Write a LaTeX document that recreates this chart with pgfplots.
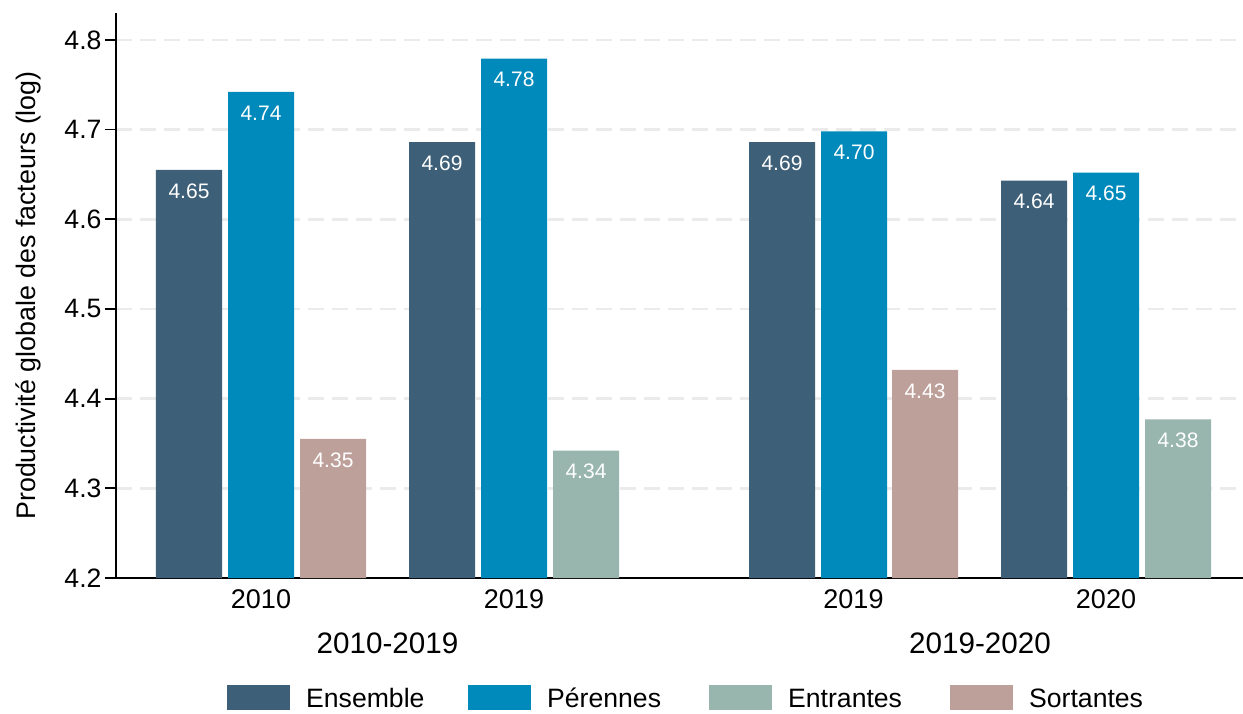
\documentclass[border=0pt]{standalone}
\usepackage{fontspec}
\setmainfont{Liberation Sans}
\usepackage{pgfplots}
\pgfplotsset{compat=1.18}

\definecolor{cEns}{HTML}{3D5F78}
\definecolor{cPer}{HTML}{008ABC}
\definecolor{cEnt}{HTML}{98B6AE}
\definecolor{cSor}{HTML}{BEA09A}
\definecolor{gridgray}{HTML}{EBEBEB}

\pgfplotsset{
  mybar/.style={ybar, bar width=66, bar shift=0pt, draw=none, fill=#1,
    legend image code/.code={
      \fill[#1] (0pt,-12.5pt) rectangle (63pt,12.5pt);
      \path (79pt,0pt);}},
}

\begin{document}
\begin{tikzpicture}
\begin{axis}[
  name=ax,
  scale only axis, width=1127pt, height=565pt,
  xmin=116, xmax=1243, ymin=4.2, ymax=4.83,
  clip mode=individual,
  axis x line*=bottom, axis y line*=left,
  axis line style={line width=1.8pt, black},
  ytick={4.2,4.3,4.4,4.5,4.6,4.7,4.8},
  yticklabels={4.2,4.3,4.4,4.5,4.6,4.7,4.8},
  xtick={261,514,853.5,1106},
  xticklabels={2010,2019,2019,2020},
  xtick style={draw=none},
  ytick style={line width=1.8pt, black},
  ytick align=outside, major tick length=11pt,
  ymajorgrids,
  grid style={line width=2.5pt, gridgray, dash pattern=on 16pt off 8pt},
  yticklabel style={font=\fontsize{26.6}{31}\selectfont},
  xticklabel style={font=\fontsize{27}{32}\selectfont, anchor=center, yshift=-21pt},
  ylabel={Productivité globale des facteurs (log)},
  ylabel style={font=\fontsize{26.8}{31}\selectfont, at={(axis description cs:0,0.5)}, anchor=center, yshift=88pt},
  point meta=explicit symbolic,
  nodes near coords,
  every node near coord/.append style={font=\fontsize{21}{25}\selectfont, white, anchor=center, yshift=-21pt},
  legend columns=4,
  legend style={draw=none, fill=none, at={(0.0985,-0.2115)}, anchor=west,
    column sep=0pt, inner sep=0pt, nodes={inner sep=0pt},
    font=\fontsize{26.6}{31}\selectfont},
]
\addplot[mybar=cEns] coordinates {(189,4.655)[4.65] (442,4.686)[4.69] (782,4.686)[4.69] (1034,4.643)[4.64]};
\addlegendentry{\makebox[162pt][l]{\strut Ensemble}}
\addplot[mybar=cPer] coordinates {(261,4.742)[4.74] (514,4.779)[4.78] (854,4.698)[4.70] (1106,4.652)[4.65]};
\addlegendentry{\makebox[162pt][l]{\strut Pérennes}}
\addplot[mybar=cEnt] coordinates {(586,4.342)[4.34] (1178,4.377)[4.38]};
\addlegendentry{\makebox[162pt][l]{\strut Entrantes}}
\addplot[mybar=cSor] coordinates {(333,4.355)[4.35] (925,4.432)[4.43]};
\addlegendentry{\makebox[162pt][l]{\strut Sortantes}}
\draw[line width=1.8pt] (rel axis cs:0,0) -- ++(-11pt,0pt);
\node[font=\fontsize{29.6}{35}\selectfont] at (axis cs:387.5,4.2) [yshift=-65pt] {2010-2019};
\node[font=\fontsize{29.6}{35}\selectfont] at (axis cs:980,4.2) [yshift=-65pt] {2019-2020};
\end{axis}
\pgfresetboundingbox
\path (ax.south west) ++(-116pt,-135pt) rectangle ++(1243pt,713pt);
\end{tikzpicture}
\end{document}
